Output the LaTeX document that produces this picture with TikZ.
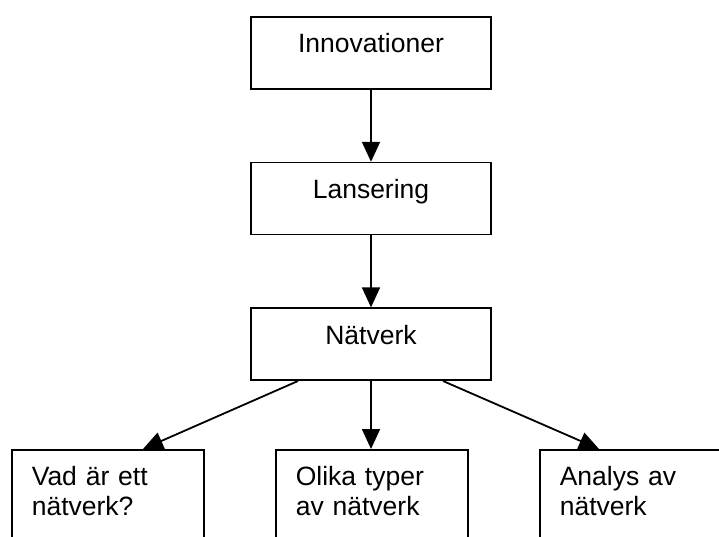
\documentclass[tikz,border=0pt]{standalone}
\usepackage{fontspec}
\setmainfont{Liberation Sans}
\usetikzlibrary{arrows.meta,positioning}

\begin{document}
\begin{tikzpicture}[x=1pt, y=-1pt, node distance=72pt,
    topbox/.style={draw, line width=1.6pt, minimum width=240pt, inner sep=0pt, text height=36pt, text depth=36pt, font=\fontsize{26.5}{30}\selectfont},
    lowbox/.style={draw, line width=1.6pt, text width=152pt, align=left, inner xsep=20pt, inner ysep=0pt, text height=36pt, text depth=110pt, anchor=north west, font=\fontsize{26.5}{30}\selectfont},
    pil/.style={-{Triangle[length=20pt,width=18pt]}, line width=1.8pt}]
    \useasboundingbox (0,0) rectangle (719,537);
    \node[topbox] (innov) at (371,53) {Innovationer};
    \node[topbox, below=of innov] (lans) {Lansering};
    \node[topbox, below=of lans] (natverk) {Nätverk};
    \node[lowbox] (vad) at (11,449) {Vad är ett\\nätverk?};
    \node[lowbox] (typer) at (275,449) {Olika typer\\av nätverk};
    \node[lowbox] (analys) at (539,449) {Analys av\\nätverk};

    \draw[pil] (innov) -- (lans);
    \draw[pil] (lans) -- (natverk);
    \draw[pil] ([xshift=-73pt]natverk.south) -- ([xshift=132pt]vad.north west);
    \draw[pil] (natverk.south) -- (natverk.south |- typer.north);
    \draw[pil] ([xshift=72pt]natverk.south) -- ([xshift=60pt]analys.north west);
\end{tikzpicture}
\end{document}
